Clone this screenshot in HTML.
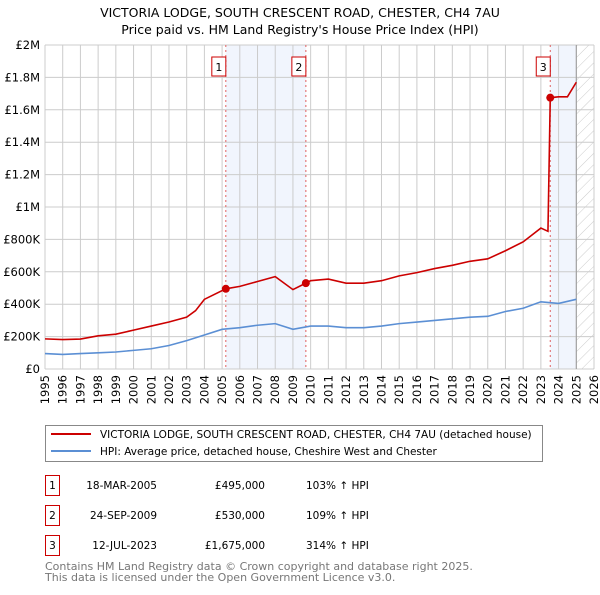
<!DOCTYPE html>
<html><head><meta charset="utf-8">
<style>
body{margin:0;background:#fff;font-family:"Liberation Sans","DejaVu Sans",sans-serif;}
svg text{font-family:"DejaVu Sans","Liberation Sans",sans-serif;}
</style></head>
<body>
<svg id="c" width="600" height="590" xmlns="http://www.w3.org/2000/svg">
<defs><pattern id="hatch" width="8" height="8" patternUnits="userSpaceOnUse" patternTransform="rotate(45)"><line x1="0" y1="0" x2="0" y2="8" stroke="#ccc" stroke-width="1"/></pattern></defs>
<text x="300" y="17" text-anchor="middle" font-size="12.5">VICTORIA LODGE, SOUTH CRESCENT ROAD, CHESTER, CH4 7AU</text>
<text x="300" y="34" text-anchor="middle" font-size="12.5">Price paid vs. HM Land Registry's House Price Index (HPI)</text>
<g id="plot"></g>
<g>
<rect x="45.5" y="425.5" width="497" height="36" fill="#fff" stroke="#888"/>
<line x1="51" y1="434" x2="91" y2="434" stroke="#cc0000" stroke-width="2"/>
<text x="100" y="438" font-size="10.5">VICTORIA LODGE, SOUTH CRESCENT ROAD, CHESTER, CH4 7AU (detached house)</text>
<line x1="51" y1="451" x2="91" y2="451" stroke="#5b8fd4" stroke-width="2"/>
<text x="100" y="455" font-size="10.5">HPI: Average price, detached house, Cheshire West and Chester</text>
</g>
<g id="table" font-size="10.5"></g>
<text x="45" y="570" font-size="11" fill="#777">Contains HM Land Registry data © Crown copyright and database right 2025.</text>
<text x="45" y="581" font-size="11" fill="#777">This data is licensed under the Open Government Licence v3.0.</text>
</svg>
<script>
const years=[1995,1996,1997,1998,1999,2000,2001,2002,2003,2004,2005,2006,2007,2008,2009,2010,2011,2012,2013,2014,2015,2016,2017,2018,2019,2020,2021,2022,2023,2024,2025,2026];
const yTicks=[0,200000,400000,600000,800000,1000000,1200000,1400000,1600000,1800000,2000000];
const yTickLabels=["£0","£200K","£400K","£600K","£800K","£1M","£1.2M","£1.4M","£1.6M","£1.8M","£2M"];
const redT=[1995,1996,1997,1998,1999,2000,2001,2002,2003,2003.5,2004,2005.21,2006,2007,2008,2009,2009.73,2010,2011,2012,2013,2014,2015,2016,2017,2018,2019,2020,2021,2022,2023,2023.4,2023.53,2024,2024.5,2025];
const redV=[186000,182000,185000,205000,215000,240000,265000,290000,320000,360000,430000,495000,510000,540000,570000,490000,530000,545000,555000,530000,530000,545000,575000,595000,620000,640000,665000,680000,730000,785000,870000,850000,1675000,1680000,1680000,1770000];
const blueT=[1995,1996,1997,1998,1999,2000,2001,2002,2003,2004,2005,2006,2007,2008,2009,2010,2011,2012,2013,2014,2015,2016,2017,2018,2019,2020,2021,2022,2023,2024,2025];
const blueV=[95000,90000,95000,100000,105000,115000,125000,145000,175000,210000,245000,255000,270000,280000,245000,265000,265000,255000,255000,265000,280000,290000,300000,310000,320000,325000,355000,375000,415000,405000,430000];
const saleT=[2005.21,2009.73,2023.53];
const saleV=[495000,530000,1675000];
const saleDates=["18-MAR-2005","24-SEP-2009","12-JUL-2023"];
const salePrices=["£495,000","£530,000","£1,675,000"];
const saleHpi=["103% ↑ HPI","109% ↑ HPI","314% ↑ HPI"];
const NS="http://www.w3.org/2000/svg";
const X0=45,X1=594,Y0=369,Y1=45;
const xs=t=>X0+(t-1995)/(2026-1995)*(X1-X0);
const ys=v=>Y0-v/2000000*(Y0-Y1);
const g=document.getElementById('plot');
function mk(tag,a,parent){const e=document.createElementNS(NS,tag);for(const k in a)e.setAttribute(k,a[k]);(parent||g).appendChild(e);return e;}
let r=mk('rect',{x:xs(saleT[0]),y:Y1,width:xs(saleT[1])-xs(saleT[0]),height:Y0-Y1,fill:'#eef3fc',opacity:0.8});


r=mk('rect',{x:xs(saleT[2]),y:Y1,width:xs(2025)-xs(saleT[2]),height:Y0-Y1,fill:'#eef3fc',opacity:0.8});


r=mk('rect',{x:xs(2025),y:Y1,width:xs(2026)-xs(2025),height:Y0-Y1,fill:'url(#hatch)'});


yTicks.forEach((v,i)=>{
 let l=mk('line',{x1:X0,x2:X1,y1:ys(v),y2:ys(v),stroke:'#ccc'});
 
 
 let t=mk('text',{x:X0-5,y:ys(v)+4,'text-anchor':'end','font-size':'11.5'});t.textContent=yTickLabels[i];
 
 
});
years.forEach(y=>{
 let l=mk('line',{x1:xs(y),x2:xs(y),y1:Y1,y2:Y0,stroke:'#ccc'});
 
 
 let t=mk('text',{x:0,y:0,'text-anchor':'end','font-size':'11.5',transform:`translate(${xs(y)+4},${Y0+6}) rotate(-90)`});t.textContent=y;
 
 
});
let ax=mk('line',{x1:xs(2025),x2:xs(2025),y1:Y1,y2:Y0,stroke:'#999'});


saleT.forEach((t,i)=>{
 let l=mk('line',{x1:xs(t),x2:xs(t),y1:Y1,y2:Y0,stroke:'#e06060','stroke-dasharray':'2,3'});
 
 
 let b=mk('rect',{x:xs(t)-14,y:57,width:14,height:19,fill:'#fff',stroke:'#cc0000'});
 
 
 let tx=mk('text',{x:xs(t)-7,y:71,'text-anchor':'middle','font-size':'11'});tx.textContent=i+1;
 
 
});
function line(T,V,col,name){
 let p=mk('polyline',{points:T.map((t,i)=>xs(t)+','+ys(V[i])).join(' '),fill:'none',stroke:col,'stroke-width':1.6});
 
 
}
line(blueT,blueV,'#5b8fd4','hpi-line');
line(redT,redV,'#cc0000','price-paid-line');
saleT.forEach((t,i)=>{
 let c=mk('circle',{cx:xs(t),cy:ys(saleV[i]),r:4,fill:'#cc0000'});
 
 
});
const tb=document.getElementById('table');
saleT.forEach((t,i)=>{
 const y=475+i*30;
 let b=mk('rect',{x:45.5,y:y+0.5,width:14,height:20,fill:'#fff',stroke:'#cc0000'},tb);
 
 
 const cells=[[52.5,i+1,'middle'],[157,saleDates[i],'end'],[265,salePrices[i],'end'],[306,saleHpi[i],'start']];
 cells.forEach(c=>{let e=mk('text',{x:c[0],y:y+14,'text-anchor':c[2]},tb);e.textContent=c[1];
  
  });
});
</script>
</body></html>
